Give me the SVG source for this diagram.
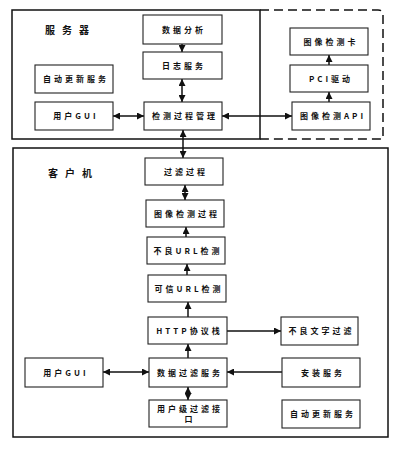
<svg xmlns="http://www.w3.org/2000/svg" width="402" height="450" viewBox="0 0 402 450">
<defs>
<marker id="ah" viewBox="0 0 8 8" markerUnits="userSpaceOnUse" markerWidth="7" markerHeight="7" refX="8" refY="4" orient="auto-start-reverse">
<path d="M0,0 L8,4 L0,8 z" fill="#111"/>
</marker>
<style>
.box{fill:#fff;stroke:#222;stroke-width:1.1}
.t{font-family:"Noto Sans CJK SC","Liberation Sans",sans-serif;font-size:8px;font-weight:bold;fill:#111;letter-spacing:3px;text-anchor:middle}
.lbl{font-family:"Noto Sans CJK SC","Liberation Sans",sans-serif;font-size:10px;font-weight:bold;fill:#111;letter-spacing:7px}
.c{fill:none;stroke:#111;stroke-width:1.5}
.frame{fill:none;stroke:#111;stroke-width:1.5}
</style>
</defs>
<rect width="402" height="450" fill="#fff"/>
<g id="frames">
<rect class="frame" x="12" y="10" width="248" height="129"/>
<path class="frame" d="M260,10 H378 Q383,10 383,15 V139 H260" stroke-dasharray="9,5" stroke-width="2"/>
<rect class="frame" x="13" y="148" width="375" height="289"/>
<text class="lbl" x="45" y="34">服务器</text>
<text class="lbl" x="48" y="177">客户机</text>
</g>
<g id="connectors">
<line class="c" x1="182" y1="43" x2="182" y2="52" marker-end="url(#ah)"/>
<line class="c" x1="182" y1="79" x2="182" y2="102" marker-start="url(#ah)" marker-end="url(#ah)"/>
<line class="c" x1="113" y1="116" x2="144" y2="116" marker-start="url(#ah)" marker-end="url(#ah)"/>
<line class="c" x1="222" y1="116" x2="292" y2="116" marker-start="url(#ah)" marker-end="url(#ah)"/>
<line class="c" x1="329" y1="102" x2="329" y2="92" marker-end="url(#ah)"/>
<line class="c" x1="329" y1="65" x2="329" y2="55" marker-end="url(#ah)"/>
<line class="c" x1="183" y1="130" x2="183" y2="158" marker-start="url(#ah)" marker-end="url(#ah)"/>
<line class="c" x1="185" y1="185" x2="185" y2="200" marker-start="url(#ah)" marker-end="url(#ah)"/>
<line class="c" x1="186" y1="237" x2="186" y2="227" marker-end="url(#ah)"/>
<line class="c" x1="187" y1="275" x2="187" y2="264" marker-end="url(#ah)"/>
<line class="c" x1="188" y1="317" x2="188" y2="302" marker-end="url(#ah)"/>
<line class="c" x1="188" y1="358" x2="188" y2="344" marker-end="url(#ah)"/>
<line class="c" x1="227" y1="331" x2="281" y2="331" marker-end="url(#ah)"/>
<line class="c" x1="282" y1="372" x2="227" y2="372" marker-end="url(#ah)"/>
<line class="c" x1="103" y1="372" x2="149" y2="372" marker-start="url(#ah)" marker-end="url(#ah)"/>
<line class="c" x1="188" y1="387" x2="188" y2="400" marker-start="url(#ah)" marker-end="url(#ah)"/>
</g>
<g id="n-sjfx"><rect class="box" x="143" y="15" width="79" height="29"/><text class="t" x="184" y="32.5">数据分析</text></g>
<g id="n-rzfw"><rect class="box" x="143" y="52" width="79" height="27"/><text class="t" x="184" y="68.5">日志服务</text></g>
<g id="n-zdgx1"><rect class="box" x="35" y="65" width="78" height="28"/><text class="t" x="76" y="82">自动更新服务</text></g>
<g id="n-gui1"><rect class="box" x="35" y="102" width="78" height="28"/><text class="t" x="76" y="119">用户GUI</text></g>
<g id="n-jcgl"><rect class="box" x="144" y="102" width="78" height="28"/><text class="t" x="185" y="119">检测过程管理</text></g>
<g id="n-txk"><rect class="box" x="290" y="28" width="78" height="27"/><text class="t" x="331" y="44.5">图像检测卡</text></g>
<g id="n-pci"><rect class="box" x="290" y="65" width="78" height="27"/><text class="t" x="331" y="81.5">PCI驱动</text></g>
<g id="n-api"><rect class="box" x="292" y="102" width="78" height="28"/><text class="t" x="333" y="119">图像检测API</text></g>
<g id="n-glgc"><rect class="box" x="145" y="158" width="78" height="27"/><text class="t" x="186" y="174.5">过滤过程</text></g>
<g id="n-txgc"><rect class="box" x="146" y="200" width="78" height="27"/><text class="t" x="187" y="216.5">图像检测过程</text></g>
<g id="n-blurl"><rect class="box" x="147" y="237" width="78" height="27"/><text class="t" x="188" y="253.5">不良URL检测</text></g>
<g id="n-kxurl"><rect class="box" x="148" y="275" width="78" height="27"/><text class="t" x="189" y="291.5">可信URL检测</text></g>
<g id="n-http"><rect class="box" x="148" y="317" width="79" height="27"/><text class="t" x="189.5" y="333.5">HTTP协议栈</text></g>
<g id="n-blwz"><rect class="box" x="281" y="317" width="77" height="28"/><text class="t" x="321.5" y="334">不良文字过滤</text></g>
<g id="n-gui2"><rect class="box" x="25" y="358" width="78" height="29"/><text class="t" x="66" y="375.5">用户GUI</text></g>
<g id="n-sjgl"><rect class="box" x="149" y="358" width="78" height="29"/><text class="t" x="190" y="375.5">数据过滤服务</text></g>
<g id="n-azfw"><rect class="box" x="282" y="358" width="78" height="29"/><text class="t" x="323" y="375.5">安装服务</text></g>
<g id="n-yhjk"><rect class="box" x="149" y="400" width="78" height="27"/><text class="t" x="190" y="412">用户级过滤接</text><text class="t" x="190" y="422">口</text></g>
<g id="n-zdgx2"><rect class="box" x="282" y="400" width="78" height="28"/><text class="t" x="323" y="417">自动更新服务</text></g>
</svg>
